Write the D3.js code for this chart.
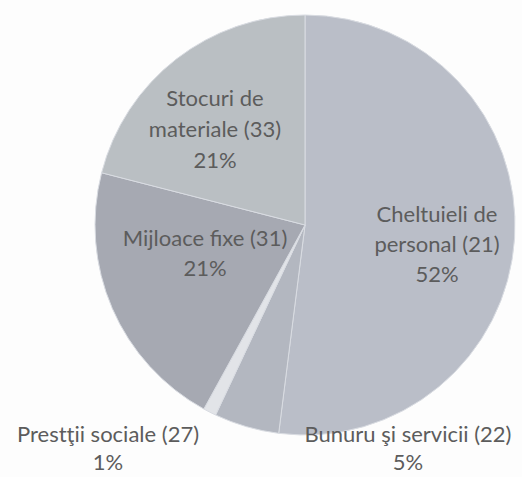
<!DOCTYPE html>
<html>
<head>
<meta charset="utf-8">
<script src="https://cdn.jsdelivr.net/npm/d3@7/dist/d3.min.js"></script>
<style>
  html, body { margin: 0; padding: 0; background: #fdfdfd; }
  svg { display: block; }
</style>
</head>
<body>
<svg id="chart" width="522" height="477"></svg>
<script>
// Data (clockwise from 12 o'clock)
const categories = ["Cheltuieli de personal (21)", "Bunuru şi servicii (22)", "Prestţii sociale (27)", "Mijloace fixe (31)", "Stocuri de materiale (33)"];
const percents = [52, 5, 1, 21, 21];
const labelLines = [
  ["Cheltuieli de", "personal (21)"],
  ["Bunuru şi servicii (22)"],
  ["Prestţii sociale (27)"],
  ["Mijloace fixe (31)"],
  ["Stocuri de", "materiale (33)"]
];

// Layout / style
const W = 522, H = 477;
const cx = 305, cy = 225, r = 210;
const colors = ["#babec8", "#b3b7c0", "#e2e4e8", "#a6a9b2", "#babfc3"];
const labelPos = [[437, 216], [408, 436], [108, 436], [205, 240], [215, 100]];
const lineH = [30, 28, 28, 30, 31];

const svg = d3.select("#chart");

const pie = d3.pie().sort(null).value(d => d);
const arcs = pie(percents);
const arc = d3.arc().innerRadius(0).outerRadius(r);

const g = svg.append("g")
  .attr("transform", `translate(${cx},${cy})`);

g.selectAll("path")
  .data(arcs)
  .join("path")
  .attr("d", arc)
  .attr("fill", (d, i) => colors[i])
  .attr("stroke", "#d9dce2")
  .attr("stroke-width", 1);

const fmt = d => d + "%";

const labels = svg.append("g")
  .attr("font-family", "Lato, 'Open Sans', sans-serif")
  .attr("font-size", 22)
  .attr("fill", "#5c5c5c")
  .attr("text-anchor", "middle");

arcs.forEach((a, i) => {
  const lines = labelLines[i].concat([fmt(percents[i])]);
  const t = labels.append("text")
    .attr("x", labelPos[i][0])
    .attr("y", labelPos[i][1])
    .attr("dominant-baseline", "middle");
  lines.forEach((ln, j) => {
    t.append("tspan")
      .attr("x", labelPos[i][0])
      .attr("dy", j === 0 ? 0 : lineH[i])
      .text(ln);
  });
});
</script>
</body>
</html>
